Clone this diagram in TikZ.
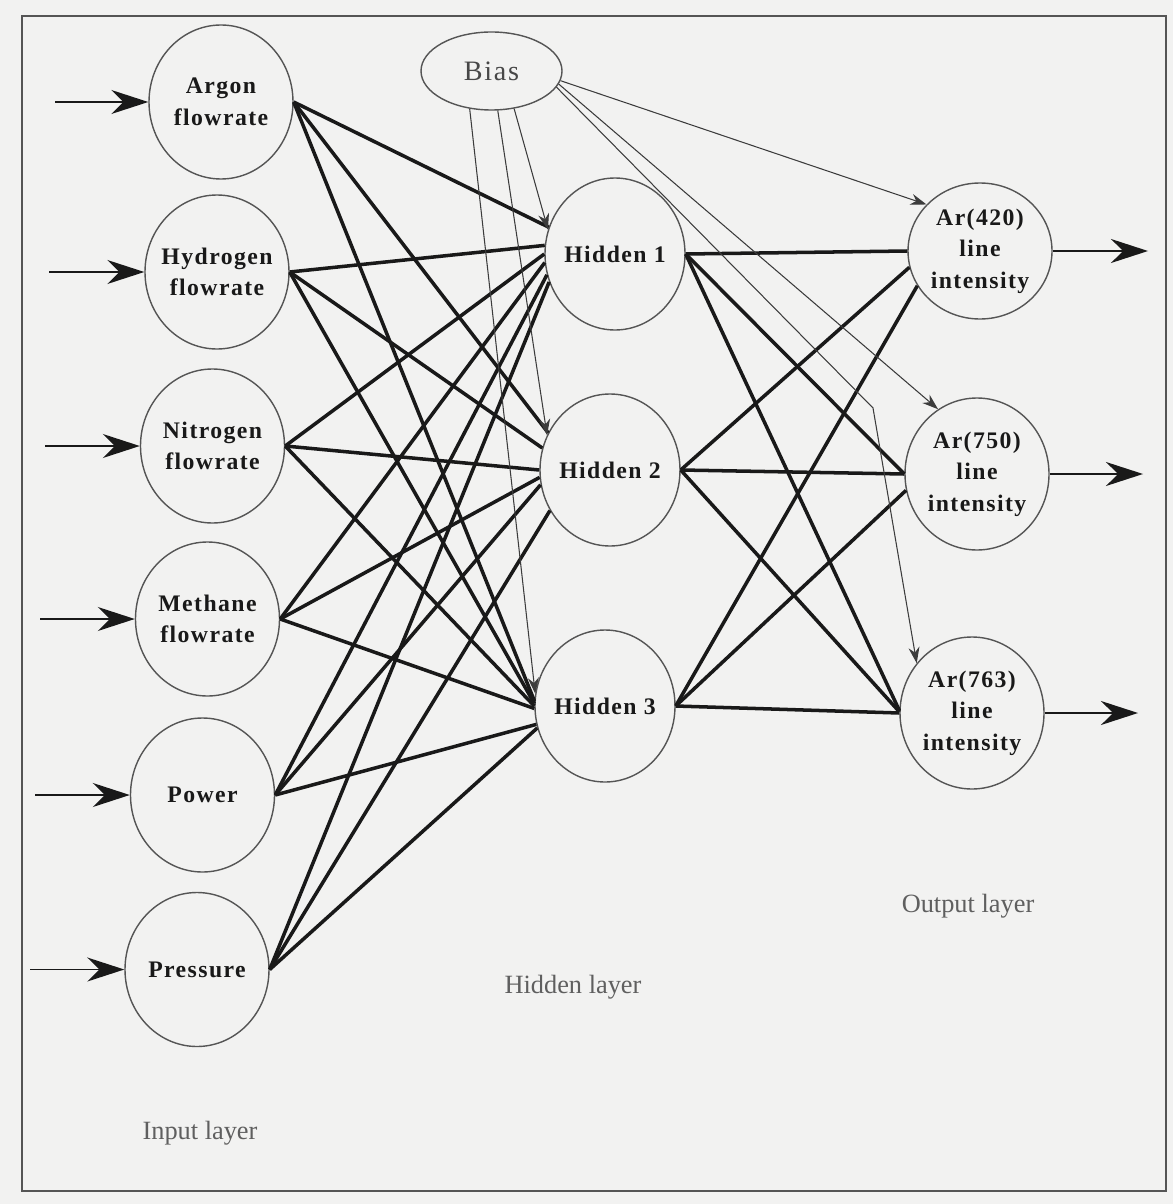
\documentclass[tikz,border=0pt]{standalone}
\usepackage{fontspec}
\setmainfont{Liberation Serif}
\newfontfamily\unitfont[LetterSpace=6]{Liberation Serif}
\usepackage{tikz}
\usetikzlibrary{shapes.geometric,arrows.meta}
\definecolor{paper}{RGB}{242,242,241}
\definecolor{rim}{RGB}{85,85,85}
\definecolor{ink}{RGB}{25,25,25}
\definecolor{caption}{RGB}{95,95,95}

\begin{document}
\begin{tikzpicture}[
    >=Stealth,
    unit/.style={
        ellipse,
        draw=rim,
        line width=0.8pt,
        fill=paper,
        text=ink,
        align=center,
        inner sep=-3pt,
        font=\unitfont\bfseries\fontsize{13.5}{18}\selectfont
    },
    inp/.style={unit, minimum width=2.88cm, minimum height=3.08cm},
    hid/.style={unit, minimum width=2.80cm, minimum height=3.04cm},
    outp/.style={unit, minimum width=2.88cm, minimum height=3.04cm},
    layer/.style={text=caption, font=\fontsize{15}{18}\selectfont},
    link/.style={line width=2pt, draw=ink},
    feed/.style={-{Stealth[length=7.4mm,width=4.8mm]}, line width=1pt, draw=ink},
    biasarr/.style={-{Stealth[length=3.2mm,width=2.2mm]}, line width=0.6pt, draw=ink!85}
]
\useasboundingbox (0,0) rectangle (23.46,-24.08);
\fill[paper] (0,0) rectangle (23.46,-24.08);
\draw[rim, line width=1.1pt] (0.44,-0.32) rectangle (23.32,-23.82);

% input layer
\node[inp] (arg) at (4.42,-2.04) {Argon\\flowrate};
\node[inp] (hyd) at (4.34,-5.44) {Hydrogen\\flowrate};
\node[inp] (nit) at (4.25,-8.92) {Nitrogen\\flowrate};
\node[inp] (met) at (4.15,-12.38) {Methane\\flowrate};
\node[inp] (pow) at (4.05,-15.90) {Power};
\node[inp] (pre) at (3.94,-19.39) {Pressure};

% hidden layer
\node[hid] (h1) at (12.30,-5.08) {Hidden 1};
\node[hid] (h2) at (12.20,-9.40) {Hidden 2};
\node[hid] (h3) at (12.10,-14.12) {Hidden 3};

% output layer
\node[outp, minimum height=2.72cm] (o1) at (19.60,-5.02) {Ar(420)\\line\\intensity};
\node[outp] (o2) at (19.54,-9.48) {Ar(750)\\line\\intensity};
\node[outp] (o3) at (19.44,-14.26) {Ar(763)\\line\\intensity};

% bias unit
\node[ellipse, draw=rim, line width=0.8pt, fill=paper, text=ink!80,
      minimum width=2.82cm, minimum height=1.56cm,
      font=\unitfont\fontsize{16}{18}\selectfont] (bias) at (9.83,-1.42) {Bias};

% captions
\node[layer] (inlab) at (4.00,-22.66) {Input layer};
\node[layer] (hidlab) at (11.46,-19.74) {Hidden layer};
\node[layer] (outlab) at (19.36,-18.12) {Output layer};

% free ends of the in/out arrows
\coordinate (argin) at (1.10,-2.04);
\coordinate (hydin) at (0.98,-5.44);
\coordinate (nitin) at (0.90,-8.92);
\coordinate (metin) at (0.80,-12.38);
\coordinate (powin) at (0.70,-15.90);
\coordinate (prein) at (0.60,-19.39);
\coordinate (o1out) at (22.96,-5.02);
\coordinate (o2out) at (22.86,-9.48);
\coordinate (o3out) at (22.76,-14.26);
\coordinate (kink) at (17.46,-8.16);

\draw[feed] (argin) -- (arg.west);
\draw[feed] (hydin) -- (hyd.west);
\draw[feed] (nitin) -- (nit.west);
\draw[feed] (metin) -- (met.west);
\draw[feed] (powin) -- (pow.west);
\draw[feed] (prein) -- (pre.west);
\draw[feed] (o1.east) -- (o1out);
\draw[feed] (o2.east) -- (o2out);
\draw[feed] (o3.east) -- (o3out);

% input -> hidden
\draw[link] (arg.east) -- (h1.158);
\draw[link] (hyd.east) -- (h1.173);
\draw[link] (nit.east) -- (h1.180);
\draw[link] (met.east) -- (h1.187);
\draw[link] (pow.east) -- (h1.197);
\draw[link] (pre.east) -- (h1.203);

\draw[link] (arg.east) -- (h2.149);
\draw[link] (hyd.east) -- (h2.162);
\draw[link] (nit.east) -- (h2.180);
\draw[link] (met.east) -- (h2.186);
\draw[link] (pow.east) -- (h2.192);
\draw[link] (pre.east) -- (h2.214);

\draw[link] (arg.east) -- (h3.176);
\draw[link] (hyd.east) -- (h3.178);
\draw[link] (nit.east) -- (h3.180);
\draw[link] (met.east) -- (h3.182);
\draw[link] (pow.east) -- (h3.195);
\draw[link] (pre.east) -- (h3.198);

% hidden -> output
\draw[link] (h1.east) -- (o1.180);
\draw[link] (h1.east) -- (o2.180);
\draw[link] (h1.east) -- (o3.178);
\draw[link] (h2.east) -- (o1.193);
\draw[link] (h2.east) -- (o2.180);
\draw[link] (h2.east) -- (o3.179);
\draw[link] (h3.east) -- (o1.209);
\draw[link] (h3.east) -- (o2.193);
\draw[link] (h3.east) -- (o3.180);

% bias connections
\draw[biasarr] (bias.301) -- (h1.160);
\draw[biasarr] (bias.279) -- (h2.151);
\draw[biasarr] (bias.240) -- (h3.170);
\draw[biasarr] (bias.352) -- (o1.139);
\draw[biasarr] (bias.349) -- (o2.121);
\draw[biasarr] (bias.346) -- (kink) -- (o3.138);

\end{tikzpicture}
\end{document}
